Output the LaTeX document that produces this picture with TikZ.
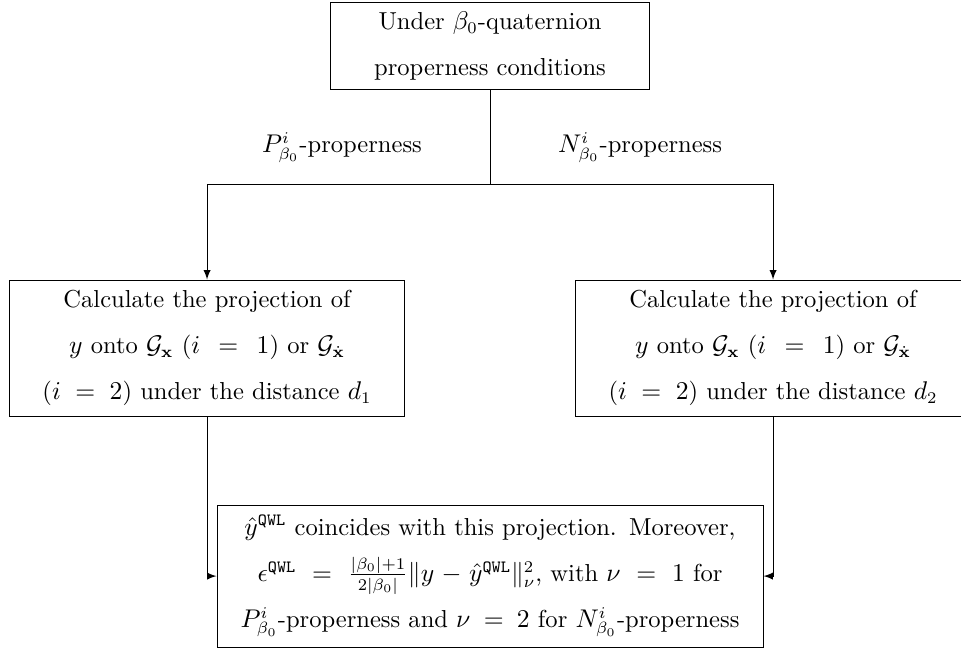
\documentclass[tikz,border=0pt]{standalone}
\usepackage{tikz}
\usetikzlibrary{calc}
\usetikzlibrary{positioning}
\usepackage{amsmath}
\usepackage{amssymb}
\tikzstyle{stepbox} = [draw, rectangle, align=center, inner sep=4pt, font=\fontsize{10.5}{19.7}\selectfont]
\tikzstyle{branchlabel} = [font=\fontsize{10.5}{12.6}\selectfont]
\tikzstyle{branch} = [draw, -latex]

\begin{document}
\begin{tikzpicture}
\useasboundingbox (0,0) rectangle (14.45,-9.745);
\node[stepbox, minimum width=4.81cm, minimum height=1.293cm, text width=4.5cm] (start) at (7.368,-0.692)
{Under $\beta_0$-quaternion\\ properness conditions};
\node[stepbox, minimum width=5.95cm, minimum height=2.045cm, text width=5.6cm] (calcP) at (3.113,-5.233)
{Calculate the projection of\\ $y$ onto $\mathcal{G}_{\mathbf{x}}$ ($i\,=\,1$) or $\mathcal{G}_{\dot{\mathbf{x}}}$\\ ($i\,=\,2$) under the distance $d_1$};
\node[stepbox, minimum width=5.95cm, minimum height=2.045cm, text width=5.6cm] (calcN) at (11.624,-5.233)
{Calculate the projection of\\ $y$ onto $\mathcal{G}_{\mathbf{x}}$ ($i\,=\,1$) or $\mathcal{G}_{\dot{\mathbf{x}}}$\\ ($i\,=\,2$) under the distance $d_2$};
\node[stepbox, minimum width=8.21cm, minimum height=2.135cm, text width=7.9cm] (result) at (7.368,-8.662)
{$\hat{y}^{\texttt{QWL}}$ coincides with this projection. Moreover,\\
$\epsilon^{\texttt{QWL}}\,=\,\frac{|\beta_0|+1}{2|\beta_0|}\|y-\hat{y}^{\texttt{QWL}}\|_\nu^2$, with $\nu\,=\,1$ for\\
$P^i_{\beta_0}$-properness and $\nu\,=\,2$ for $N^i_{\beta_0}$-properness};

\coordinate (split) at (7.368,-2.767);
\coordinate (toP) at (3.113,-2.767);
\coordinate (toN) at (11.624,-2.767);
\draw (start.south) -- (split);
\draw (toP) -- (toN);
\node[branchlabel, anchor=south east] (labP) at ($(split)+(-0.9,0.2)$) {$P^i_{\beta_0}$-properness};
\node[branchlabel, anchor=south west] (labN) at ($(split)+(0.9,0.2)$) {$N^i_{\beta_0}$-properness};

\draw[branch] (toP) -- (calcP.north);
\draw[branch] (toN) -- (calcN.north);
\draw[branch] (calcP.south) |- (result.west);
\draw[branch] (calcN.south) |- (result.east);
\end{tikzpicture}
\end{document}
